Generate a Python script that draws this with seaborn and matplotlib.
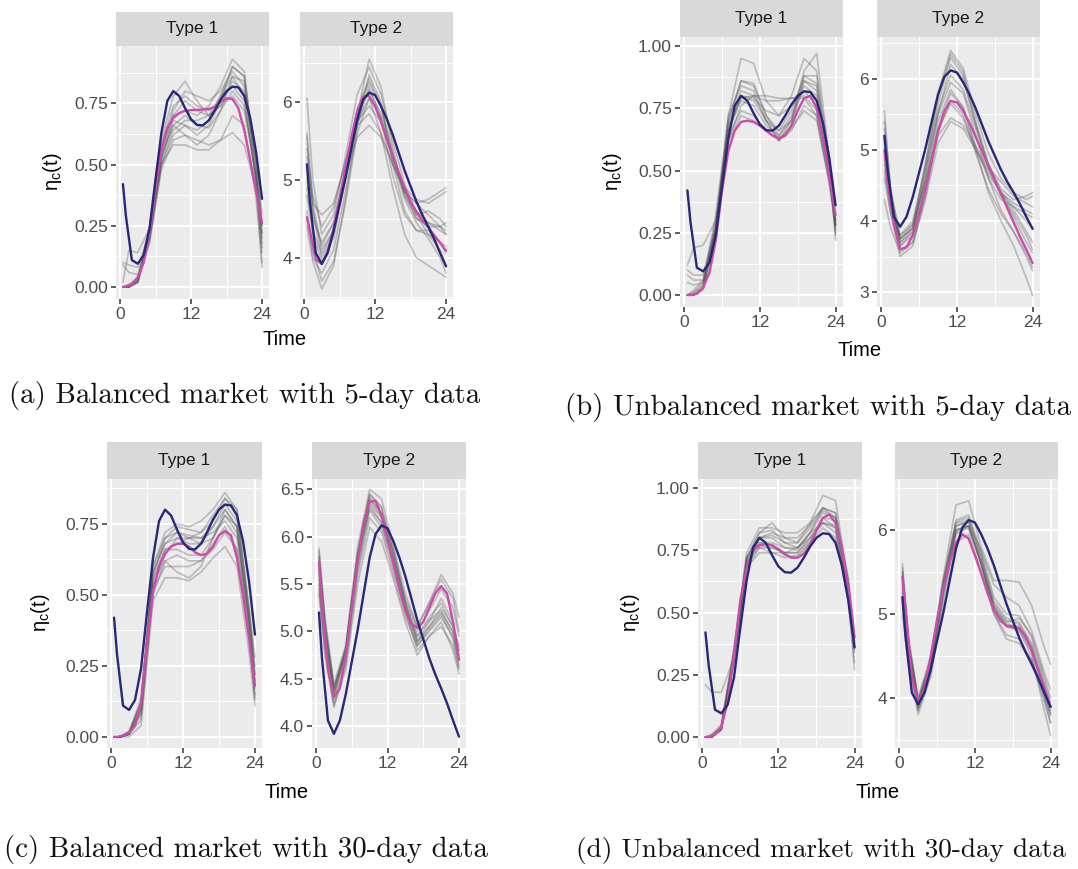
import numpy as np
import pandas as pd
import matplotlib
matplotlib.use("Agg")
import matplotlib.pyplot as plt
import seaborn as sns

# ---------------------------------------------------------------- data
HOURS = [0.5, 1, 2, 3, 4, 5, 6, 7, 8, 9, 10, 11, 12,
         13, 14, 15, 16, 17, 18, 19, 20, 21, 22, 23, 24]
GRID = [0.5, 1.5, 3, 5, 7, 9, 11, 13, 15, 17, 19, 21, 23, 24]

# true intensity curves (same in every scenario)
TRUE_T1 = [0.42, 0.29, 0.11, 0.095, 0.13, 0.24, 0.44, 0.63, 0.76, 0.80, 0.78, 0.73, 0.685,
           0.662, 0.66, 0.68, 0.72, 0.765, 0.80, 0.818, 0.815, 0.78, 0.69, 0.55, 0.36]
TRUE_T2 = [5.20, 4.72, 4.06, 3.92, 4.06, 4.34, 4.68, 5.02, 5.40, 5.78, 6.03, 6.12, 6.09,
           5.95, 5.78, 5.58, 5.35, 5.12, 4.92, 4.72, 4.55, 4.40, 4.24, 4.06, 3.89]

# mean of the estimates
MEAN_A1 = [0.00, 0.002, 0.01, 0.04, 0.10, 0.22, 0.40, 0.56, 0.65, 0.69, 0.71, 0.72, 0.722,
           0.723, 0.725, 0.727, 0.735, 0.755, 0.77, 0.768, 0.73, 0.64, 0.52, 0.39, 0.26]
MEAN_A2 = [4.52, 4.35, 3.98, 3.92, 4.08, 4.38, 4.75, 5.15, 5.55, 5.88, 6.07, 6.08, 5.95,
           5.75, 5.52, 5.30, 5.10, 4.90, 4.72, 4.59, 4.48, 4.39, 4.29, 4.19, 4.09]
MEAN_B1 = [0.00, 0.00, 0.005, 0.03, 0.09, 0.22, 0.42, 0.58, 0.66, 0.695, 0.70, 0.695, 0.68,
           0.66, 0.64, 0.63, 0.64, 0.68, 0.74, 0.79, 0.80, 0.75, 0.63, 0.48, 0.32]
MEAN_B2 = [5.00, 4.55, 3.95, 3.60, 3.63, 3.80, 4.10, 4.45, 4.85, 5.25, 5.55, 5.69, 5.67,
           5.55, 5.38, 5.18, 4.98, 4.78, 4.58, 4.38, 4.18, 3.98, 3.78, 3.60, 3.41]
MEAN_C1 = [0.00, 0.00, 0.005, 0.015, 0.04, 0.12, 0.33, 0.51, 0.60, 0.645, 0.67, 0.68, 0.68,
           0.67, 0.65, 0.64, 0.645, 0.67, 0.71, 0.725, 0.71, 0.63, 0.50, 0.35, 0.18]
MEAN_C2 = [5.73, 5.30, 4.60, 4.31, 4.40, 4.75, 5.25, 5.75, 6.15, 6.37, 6.38, 6.22, 5.98,
           5.72, 5.45, 5.22, 5.08, 5.04, 5.10, 5.25, 5.40, 5.48, 5.40, 5.10, 4.70]
MEAN_D1 = [0.00, 0.00, 0.01, 0.04, 0.14, 0.33, 0.55, 0.68, 0.75, 0.77, 0.775, 0.77, 0.755,
           0.735, 0.72, 0.72, 0.735, 0.77, 0.83, 0.88, 0.893, 0.86, 0.76, 0.60, 0.40]
MEAN_D2 = [5.44, 5.05, 4.25, 3.94, 4.10, 4.50, 4.92, 5.30, 5.62, 5.85, 5.95, 5.90, 5.70,
           5.48, 5.25, 5.05, 4.92, 4.86, 4.85, 4.83, 4.74, 4.56, 4.35, 4.12, 3.89]

# individual replications, sampled on GRID
RUNS_A1 = [
    [0.00, 0.00, 0.02, 0.20, 0.55, 0.72, 0.80, 0.78, 0.76, 0.80, 0.88, 0.82, 0.50, 0.25],
    [0.10, 0.09, 0.08, 0.22, 0.52, 0.66, 0.70, 0.66, 0.65, 0.72, 0.80, 0.74, 0.45, 0.22],
    [0.00, 0.01, 0.04, 0.25, 0.60, 0.78, 0.84, 0.76, 0.70, 0.74, 0.84, 0.80, 0.52, 0.30],
    [0.00, 0.00, 0.02, 0.18, 0.48, 0.60, 0.62, 0.60, 0.58, 0.60, 0.63, 0.58, 0.40, 0.18],
    [0.02, 0.15, 0.14, 0.24, 0.50, 0.62, 0.66, 0.64, 0.68, 0.78, 0.90, 0.86, 0.52, 0.26],
    [0.00, 0.00, 0.03, 0.22, 0.56, 0.70, 0.72, 0.70, 0.74, 0.82, 0.93, 0.88, 0.45, 0.16],
    [0.00, 0.00, 0.02, 0.20, 0.50, 0.58, 0.58, 0.56, 0.56, 0.60, 0.70, 0.66, 0.36, 0.10],
    [0.00, 0.00, 0.03, 0.22, 0.54, 0.66, 0.62, 0.58, 0.62, 0.72, 0.86, 0.84, 0.42, 0.08],
    [0.09, 0.06, 0.05, 0.20, 0.52, 0.70, 0.76, 0.72, 0.70, 0.74, 0.78, 0.72, 0.46, 0.25],
    [0.00, 0.00, 0.02, 0.24, 0.58, 0.74, 0.78, 0.74, 0.72, 0.76, 0.82, 0.76, 0.44, 0.20],
    [0.00, 0.01, 0.03, 0.19, 0.50, 0.64, 0.68, 0.68, 0.70, 0.78, 0.86, 0.78, 0.42, 0.22],
    [0.00, 0.00, 0.02, 0.21, 0.53, 0.68, 0.66, 0.62, 0.66, 0.76, 0.90, 0.86, 0.48, 0.14],
]
RUNS_A2 = [
    [6.05, 5.00, 4.30, 4.55, 5.30, 6.10, 6.45, 6.10, 5.50, 4.95, 4.55, 4.30, 4.20, 4.15],
    [5.55, 4.60, 4.00, 4.30, 5.10, 5.90, 6.30, 5.95, 5.30, 4.85, 4.60, 4.45, 4.35, 4.30],
    [4.60, 4.10, 3.70, 3.95, 4.70, 5.60, 6.05, 5.60, 4.90, 4.30, 4.00, 3.90, 3.80, 3.75],
    [5.00, 4.50, 4.20, 4.45, 5.05, 5.55, 5.70, 5.55, 5.20, 4.90, 4.75, 4.70, 4.80, 4.85],
    [4.80, 4.30, 3.95, 4.25, 5.00, 5.85, 6.55, 6.20, 5.40, 4.80, 4.50, 4.45, 4.40, 4.30],
    [5.40, 4.80, 4.40, 4.65, 5.25, 5.75, 5.95, 5.75, 5.30, 4.85, 4.70, 4.75, 4.85, 4.90],
    [4.50, 4.00, 3.80, 4.10, 4.85, 5.70, 6.20, 5.80, 5.05, 4.55, 4.35, 4.30, 4.10, 3.90],
    [5.20, 4.70, 4.55, 4.70, 5.20, 5.70, 5.85, 5.60, 5.20, 4.85, 4.70, 4.55, 4.40, 4.35],
    [4.40, 3.95, 3.60, 3.90, 4.75, 5.70, 6.35, 6.00, 5.20, 4.60, 4.35, 4.35, 4.20, 4.05],
    [5.60, 4.70, 4.10, 4.35, 5.05, 5.85, 6.15, 5.85, 5.30, 4.80, 4.55, 4.60, 4.50, 4.40],
    [4.90, 4.35, 4.05, 4.35, 5.05, 5.75, 6.05, 5.80, 5.25, 4.75, 4.45, 4.25, 4.00, 3.80],
    [5.30, 4.60, 4.15, 4.45, 5.15, 5.90, 6.25, 5.95, 5.35, 4.85, 4.50, 4.40, 4.40, 4.45],
]
RUNS_B1 = [
    [0.00, 0.00, 0.03, 0.26, 0.72, 0.95, 0.93, 0.78, 0.72, 0.80, 0.95, 0.90, 0.55, 0.28],
    [0.10, 0.08, 0.08, 0.28, 0.66, 0.80, 0.79, 0.74, 0.72, 0.76, 0.82, 0.76, 0.50, 0.30],
    [0.00, 0.01, 0.05, 0.30, 0.70, 0.86, 0.84, 0.72, 0.66, 0.74, 0.88, 0.85, 0.52, 0.24],
    [0.12, 0.19, 0.20, 0.30, 0.62, 0.76, 0.80, 0.80, 0.79, 0.79, 0.80, 0.74, 0.48, 0.29],
    [0.00, 0.00, 0.03, 0.25, 0.64, 0.74, 0.72, 0.66, 0.62, 0.66, 0.76, 0.72, 0.45, 0.26],
    [0.00, 0.02, 0.06, 0.32, 0.72, 0.84, 0.82, 0.70, 0.62, 0.70, 0.90, 0.97, 0.55, 0.22],
    [0.08, 0.06, 0.06, 0.26, 0.66, 0.80, 0.78, 0.70, 0.66, 0.70, 0.84, 0.80, 0.50, 0.30],
    [0.00, 0.00, 0.03, 0.27, 0.68, 0.82, 0.80, 0.70, 0.62, 0.68, 0.86, 0.84, 0.52, 0.28],
    [0.00, 0.01, 0.04, 0.28, 0.68, 0.79, 0.80, 0.78, 0.78, 0.79, 0.79, 0.72, 0.46, 0.28],
    [0.00, 0.00, 0.02, 0.24, 0.62, 0.72, 0.70, 0.66, 0.63, 0.67, 0.74, 0.70, 0.45, 0.30],
    [0.05, 0.04, 0.05, 0.27, 0.70, 0.86, 0.85, 0.72, 0.64, 0.70, 0.88, 0.88, 0.52, 0.25],
    [0.00, 0.00, 0.03, 0.26, 0.66, 0.78, 0.76, 0.68, 0.64, 0.72, 0.86, 0.82, 0.50, 0.27],
]
RUNS_B2 = [
    [5.55, 4.40, 3.70, 3.90, 4.80, 5.80, 6.40, 6.15, 5.50, 4.95, 4.60, 4.40, 4.30, 4.35],
    [5.20, 4.30, 3.65, 3.85, 4.70, 5.65, 6.30, 6.05, 5.35, 4.80, 4.40, 4.20, 4.00, 3.90],
    [4.60, 4.10, 3.80, 3.95, 4.55, 5.20, 5.45, 5.35, 5.05, 4.75, 4.55, 4.35, 4.25, 4.20],
    [5.00, 4.25, 3.60, 3.70, 4.40, 5.30, 5.80, 5.60, 5.00, 4.40, 4.00, 3.65, 3.20, 2.95],
    [4.80, 4.20, 3.75, 3.90, 4.55, 5.30, 5.65, 5.45, 5.00, 4.65, 4.40, 4.15, 3.85, 3.70],
    [5.40, 4.45, 3.75, 3.95, 4.80, 5.75, 6.35, 6.10, 5.40, 4.80, 4.45, 4.30, 4.35, 4.40],
    [4.30, 3.90, 3.55, 3.70, 4.30, 5.10, 5.40, 5.30, 5.00, 4.70, 4.40, 4.05, 3.70, 3.55],
    [5.10, 4.35, 3.70, 3.85, 4.65, 5.50, 5.95, 5.80, 5.20, 4.60, 4.15, 3.85, 3.55, 3.35],
    [4.90, 4.25, 3.65, 3.80, 4.50, 5.40, 5.85, 5.60, 5.05, 4.60, 4.30, 4.20, 4.10, 4.05],
    [5.30, 4.40, 3.80, 4.00, 4.75, 5.55, 6.05, 5.85, 5.30, 4.75, 4.35, 4.10, 3.80, 3.60],
    [4.70, 4.10, 3.50, 3.65, 4.35, 5.25, 5.70, 5.50, 4.95, 4.45, 4.10, 3.85, 3.50, 3.30],
    [5.00, 4.30, 3.75, 3.90, 4.60, 5.50, 6.20, 6.00, 5.35, 4.75, 4.40, 4.25, 4.15, 4.10],
]
RUNS_C1 = [
    [0.00, 0.00, 0.01, 0.10, 0.60, 0.72, 0.75, 0.74, 0.76, 0.80, 0.86, 0.80, 0.45, 0.25],
    [0.00, 0.00, 0.01, 0.08, 0.52, 0.60, 0.60, 0.60, 0.62, 0.68, 0.74, 0.66, 0.35, 0.14],
    [0.00, 0.00, 0.02, 0.12, 0.58, 0.68, 0.70, 0.68, 0.68, 0.74, 0.82, 0.76, 0.42, 0.22],
    [0.00, 0.00, 0.00, 0.04, 0.48, 0.56, 0.56, 0.55, 0.58, 0.63, 0.67, 0.60, 0.30, 0.11],
    [0.00, 0.00, 0.01, 0.14, 0.60, 0.70, 0.74, 0.73, 0.72, 0.76, 0.84, 0.78, 0.46, 0.28],
    [0.00, 0.00, 0.01, 0.09, 0.55, 0.66, 0.66, 0.64, 0.64, 0.70, 0.78, 0.72, 0.40, 0.18],
    [0.00, 0.00, 0.01, 0.10, 0.54, 0.62, 0.58, 0.56, 0.60, 0.70, 0.80, 0.74, 0.38, 0.13],
    [0.00, 0.00, 0.02, 0.12, 0.58, 0.68, 0.72, 0.71, 0.70, 0.72, 0.76, 0.70, 0.40, 0.20],
    [0.00, 0.00, 0.01, 0.06, 0.50, 0.62, 0.64, 0.62, 0.62, 0.66, 0.72, 0.66, 0.36, 0.15],
    [0.00, 0.00, 0.01, 0.11, 0.56, 0.66, 0.68, 0.70, 0.72, 0.78, 0.84, 0.80, 0.44, 0.22],
    [0.00, 0.00, 0.01, 0.08, 0.53, 0.64, 0.70, 0.70, 0.68, 0.70, 0.78, 0.74, 0.42, 0.17],
    [0.00, 0.00, 0.01, 0.12, 0.57, 0.70, 0.72, 0.70, 0.70, 0.74, 0.80, 0.74, 0.43, 0.20],
]
RUNS_C2 = [
    [5.88, 5.15, 4.45, 4.85, 5.85, 6.42, 6.25, 5.85, 5.35, 5.05, 5.30, 5.60, 5.40, 5.15],
    [5.60, 4.95, 4.35, 4.78, 5.75, 6.35, 6.20, 5.75, 5.25, 4.90, 5.05, 5.20, 5.00, 4.75],
    [5.80, 5.10, 4.40, 4.82, 5.80, 6.45, 6.30, 5.85, 5.30, 4.95, 5.15, 5.30, 5.05, 4.80],
    [5.40, 4.75, 4.20, 4.60, 5.50, 6.10, 5.95, 5.55, 5.10, 4.75, 4.95, 5.10, 4.80, 4.55],
    [5.75, 5.05, 4.35, 4.85, 5.90, 6.50, 6.40, 5.90, 5.40, 5.05, 5.30, 5.55, 5.35, 5.00],
    [5.50, 4.85, 4.25, 4.70, 5.65, 6.28, 6.10, 5.65, 5.20, 4.85, 5.00, 5.15, 4.95, 4.70],
    [5.70, 5.00, 4.38, 4.80, 5.80, 6.40, 6.25, 5.80, 5.30, 4.90, 5.10, 5.35, 5.10, 4.80],
    [5.85, 5.10, 4.42, 4.75, 5.70, 6.30, 6.15, 5.70, 5.22, 4.80, 4.95, 5.05, 4.85, 4.60],
    [5.65, 4.98, 4.32, 4.76, 5.75, 6.38, 6.22, 5.78, 5.28, 4.88, 5.05, 5.25, 5.05, 4.85],
    [5.55, 4.90, 4.30, 4.80, 5.82, 6.45, 6.32, 5.82, 5.32, 5.00, 5.22, 5.45, 5.25, 4.95],
    [5.78, 5.05, 4.40, 4.82, 5.78, 6.33, 6.15, 5.72, 5.25, 4.95, 5.12, 5.22, 4.98, 4.65],
    [5.45, 4.80, 4.22, 4.65, 5.60, 6.20, 6.05, 5.60, 5.15, 4.85, 5.02, 5.18, 4.92, 4.62],
]
RUNS_D1 = [
    [0.21, 0.18, 0.18, 0.32, 0.68, 0.80, 0.82, 0.80, 0.80, 0.85, 0.92, 0.88, 0.62, 0.40],
    [0.00, 0.00, 0.04, 0.33, 0.72, 0.82, 0.86, 0.80, 0.78, 0.86, 0.97, 0.95, 0.62, 0.35],
    [0.00, 0.00, 0.03, 0.30, 0.68, 0.76, 0.76, 0.74, 0.74, 0.80, 0.88, 0.84, 0.58, 0.38],
    [0.00, 0.01, 0.05, 0.36, 0.74, 0.84, 0.84, 0.82, 0.82, 0.86, 0.92, 0.90, 0.64, 0.42],
    [0.00, 0.00, 0.03, 0.31, 0.70, 0.76, 0.74, 0.72, 0.73, 0.78, 0.84, 0.80, 0.55, 0.30],
    [0.00, 0.00, 0.04, 0.33, 0.72, 0.80, 0.80, 0.76, 0.75, 0.82, 0.90, 0.88, 0.60, 0.36],
    [0.00, 0.00, 0.03, 0.30, 0.68, 0.74, 0.74, 0.74, 0.76, 0.82, 0.86, 0.82, 0.56, 0.27],
    [0.00, 0.00, 0.04, 0.34, 0.72, 0.82, 0.83, 0.78, 0.76, 0.82, 0.92, 0.90, 0.63, 0.40],
    [0.00, 0.00, 0.03, 0.32, 0.70, 0.78, 0.78, 0.76, 0.76, 0.80, 0.86, 0.84, 0.58, 0.34],
    [0.00, 0.01, 0.04, 0.35, 0.72, 0.78, 0.77, 0.73, 0.72, 0.78, 0.88, 0.87, 0.60, 0.38],
    [0.00, 0.00, 0.03, 0.31, 0.70, 0.80, 0.81, 0.78, 0.78, 0.84, 0.91, 0.88, 0.61, 0.37],
    [0.00, 0.00, 0.04, 0.33, 0.71, 0.77, 0.76, 0.74, 0.74, 0.79, 0.86, 0.85, 0.59, 0.36],
]
RUNS_D2 = [
    [5.60, 4.70, 4.00, 4.50, 5.45, 6.30, 6.35, 5.80, 5.40, 5.40, 5.38, 5.10, 4.60, 4.40],
    [5.30, 4.55, 3.90, 4.35, 5.25, 5.95, 6.05, 5.60, 5.05, 4.85, 4.82, 4.55, 4.00, 3.70],
    [5.50, 4.65, 3.95, 4.45, 5.40, 6.10, 6.15, 5.70, 5.15, 4.95, 4.90, 4.65, 4.15, 3.90],
    [5.00, 4.40, 3.80, 4.25, 5.15, 5.85, 5.95, 5.50, 5.00, 4.75, 4.70, 4.45, 3.95, 3.70],
    [5.40, 4.60, 3.95, 4.40, 5.35, 6.05, 6.10, 5.65, 5.10, 4.90, 4.95, 4.75, 4.25, 4.00],
    [5.20, 4.50, 3.85, 4.30, 5.25, 6.00, 6.05, 5.60, 5.08, 4.85, 4.80, 4.50, 3.85, 3.55],
    [5.55, 4.65, 3.98, 4.45, 5.35, 6.05, 6.10, 5.75, 5.35, 5.20, 5.10, 4.80, 4.30, 4.10],
    [5.35, 4.60, 3.92, 4.40, 5.30, 6.00, 6.05, 5.60, 5.00, 4.70, 4.65, 4.45, 4.00, 3.80],
    [5.45, 4.62, 3.95, 4.42, 5.38, 6.08, 6.12, 5.68, 5.12, 4.92, 4.88, 4.62, 4.10, 3.85],
    [5.25, 4.55, 3.88, 4.35, 5.30, 6.00, 6.05, 5.62, 5.08, 4.88, 4.85, 4.60, 4.08, 3.82],
    [5.50, 4.68, 3.96, 4.44, 5.40, 6.12, 6.18, 5.75, 5.20, 5.00, 4.98, 4.72, 4.20, 3.95],
    [5.15, 4.50, 3.85, 4.32, 5.22, 5.98, 6.02, 5.58, 5.05, 4.85, 4.82, 4.58, 4.05, 3.78],
]

STRIPS = ["Type 1", "Type 2"]
CAPTIONS = ["(a) Balanced market with 5-day data",
            "(b) Unbalanced market with 5-day data",
            "(c) Balanced market with 30-day data",
            "(d) Unbalanced market with 30-day data"]

# ---------------------------------------------------------------- style
sns.set_theme(style="darkgrid")
plt.rcParams["font.family"] = ["Liberation Sans", "DejaVu Sans"]

W, H = 1078, 869
fig = plt.figure(figsize=(W / 100, H / 100), dpi=100)
fig.patch.set_facecolor("white")

NAVY = "#28287A"
PINK = "#CC4CAA"
GREY = "#555555"
PANEL_BG = "#EBEBEB"
STRIP_BG = "#D9D9D9"


def px_axes(x0, y0, x1, y1):
    return fig.add_axes([x0 / W, 1 - y1 / H, (x1 - x0) / W, (y1 - y0) / H])


def runs_frame(runs):
    rows = []
    for k, run in enumerate(runs):
        for t, v in zip(GRID, run):
            rows.append((k, t, v))
    return pd.DataFrame(rows, columns=["run", "time", "eta"])


def draw_panel(box, runs, mean, truth, ylim, yticks, ylabels, strip):
    x0, ys, yb, x1, y1 = box
    # strip header
    sax = px_axes(x0, ys, x1, yb)
    sax.set_facecolor(STRIP_BG)
    sax.set_xticks([]); sax.set_yticks([])
    for s in sax.spines.values():
        s.set_visible(False)
    sax.grid(False)
    sax.text(0.5, 0.5, strip, ha="center", va="center", fontsize=12.5,
             color="#1A1A1A", transform=sax.transAxes)

    ax = px_axes(x0, yb, x1, y1)
    ax.set_facecolor(PANEL_BG)
    sns.lineplot(data=runs_frame(runs), x="time", y="eta", units="run",
                 estimator=None, color=GREY, alpha=0.32, lw=1.25, ax=ax,
                 legend=False)
    sns.lineplot(x=HOURS, y=mean, color=PINK, lw=1.7, ax=ax)
    sns.lineplot(x=HOURS, y=truth, color=NAVY, lw=1.7, ax=ax)
    for ln in ax.lines:
        ln.set_solid_joinstyle("round")
        ln.set_solid_capstyle("round")

    ax.set_xlim(-0.675, 25.175)
    ax.set_ylim(*ylim)
    ax.set_xticks([0, 12, 24])
    ax.set_xticks([6, 18], minor=True)
    ax.set_yticks(yticks)
    ax.set_yticklabels(ylabels)
    step = yticks[1] - yticks[0]
    minors = [v + step / 2 for v in [yticks[0] - step] + list(yticks)]
    ax.set_yticks([m for m in minors if ylim[0] < m < ylim[1]], minor=True)
    ax.grid(True, which="major", color="white", lw=1.3)
    ax.grid(True, which="minor", color="white", lw=0.65)
    for s in ax.spines.values():
        s.set_visible(False)
    ax.tick_params(which="major", direction="out", length=3.8, width=1.1,
                   color="#333333", labelcolor="#4D4D4D", labelsize=12.5, pad=2,
                   bottom=True, left=True)
    ax.tick_params(which="minor", length=0)
    ax.set_xlabel("")
    ax.set_ylabel("")
    return ax


T1_TICKS = [0.0, 0.25, 0.5, 0.75]
T1_LABELS = ["0.00", "0.25", "0.50", "0.75"]
T1B_TICKS = [0.0, 0.25, 0.5, 0.75, 1.0]
T1B_LABELS = ["0.00", "0.25", "0.50", "0.75", "1.00"]

# (a)
draw_panel((116, 12, 46, 269, 299), RUNS_A1, MEAN_A1, TRUE_T1,
           (-0.049, 0.984), T1_TICKS, T1_LABELS, STRIPS[0])
draw_panel((300, 12, 46, 453, 299), RUNS_A2, MEAN_A2, TRUE_T2,
           (3.47, 6.72), [4, 5, 6], ["4", "5", "6"], STRIPS[1])
# (b)
draw_panel((680, 0, 37, 843, 307), RUNS_B1, MEAN_B1, TRUE_T1,
           (-0.048, 1.036), T1B_TICKS, T1B_LABELS, STRIPS[0])
draw_panel((877, 0, 37, 1040, 307), RUNS_B2, MEAN_B2, TRUE_T2,
           (2.79, 6.59), [3, 4, 5, 6], ["3", "4", "5", "6"], STRIPS[1])
# (c)
draw_panel((107, 442, 479, 262, 748), RUNS_C1, MEAN_C1, TRUE_T1,
           (-0.039, 0.908), T1_TICKS, T1_LABELS, STRIPS[0])
draw_panel((312, 442, 479, 466, 748), RUNS_C2, MEAN_C2, TRUE_T2,
           (3.77, 6.61), [4.0, 4.5, 5.0, 5.5, 6.0, 6.5],
           ["4.0", "4.5", "5.0", "5.5", "6.0", "6.5"], STRIPS[1])
# (d)
draw_panel((698, 442, 479, 862, 748), RUNS_D1, MEAN_D1, TRUE_T1,
           (-0.044, 1.036), T1B_TICKS, T1B_LABELS, STRIPS[0])
draw_panel((895, 442, 479, 1058, 748), RUNS_D2, MEAN_D2, TRUE_T2,
           (3.40, 6.61), [4, 5, 6], ["4", "5", "6"], STRIPS[1])


def ftext(x, y, s, **kw):
    fig.text(x / W, 1 - y / H, s, **kw)


ylab = r"$\mathregular{\eta_c(t)}$"
for (xl, yl), (xt, yt) in [((52, 172), (285, 340)), ((612, 172), (860, 350)),
                           ((40, 613), (287, 792)), ((630, 613), (878, 792))]:
    ftext(xl, yl, ylab, rotation=90, ha="center", va="center", fontsize=14.5,
          color="black")
    ftext(xt, yt, "Time", ha="center", va="center", fontsize=14.5, color="black")

cap_kw = dict(family="cmr10", color="#111111", va="center")
ftext(245, 395, CAPTIONS[0], ha="center", fontsize=20.8, **cap_kw)
ftext(818, 408, CAPTIONS[1], ha="center", fontsize=20.8, **cap_kw)
ftext(246, 850, CAPTIONS[2], ha="center", fontsize=20.8, **cap_kw)
ftext(576, 850, CAPTIONS[3], ha="left", fontsize=19.6, **cap_kw)

fig.savefig("out.png", dpi=100)
